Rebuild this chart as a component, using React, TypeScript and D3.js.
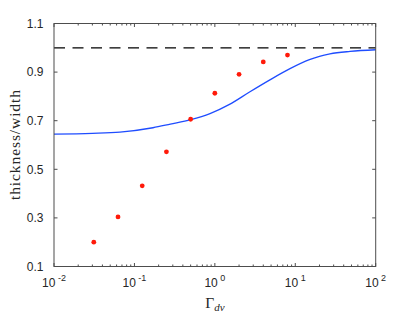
import React, { useRef, useEffect } from "react";
import * as d3 from "d3";

// measured points (Gamma_dv, thickness/width)
const dotX = [0.03125, 0.0625, 0.125, 0.25, 0.5, 1, 2, 4, 8];
const dotY = [0.2, 0.304, 0.432, 0.572, 0.706, 0.813, 0.891, 0.942, 0.97];

// model curve
const curveX = [0.01, 0.03, 0.066, 0.17, 0.28, 0.5, 0.87, 1.5, 2.7, 4.9, 8.6, 15, 20, 27, 48, 100];
const curveY = [0.645, 0.648, 0.653, 0.671, 0.686, 0.704, 0.729, 0.766, 0.818, 0.869, 0.914, 0.951, 0.965, 0.975, 0.985, 0.992];

const limitY = 1;

const yTicks = [0.1, 0.3, 0.5, 0.7, 0.9, 1.1];
const xDecades = [0.01, 0.1, 1, 10, 100];
const xExponents = ["-2", "-1", "0", "1", "2"];

const W = 415;
const H = 312;
const m = { left: 54, right: 39.3, top: 23.5, bottom: 45.5 };

const App = () => {
  const svgRef = useRef(null);

  useEffect(() => {
    const svg = d3.select(svgRef.current);
    svg.selectAll("*").remove();

    const x = d3.scaleLog().domain([0.01, 100]).range([m.left, W - m.right]);
    const y = d3.scaleLinear().domain([0.1, 1.1]).range([H - m.bottom, m.top]);
    const [x0, x1] = x.range();
    const [y0, y1] = y.range();

    const axisColor = "#4d4d4d";
    const textColor = "#262626";

    // dashed limit
    svg
      .append("line")
      .attr("x1", x0)
      .attr("x2", x1)
      .attr("y1", y(limitY))
      .attr("y2", y(limitY))
      .attr("stroke", "#000")
      .attr("stroke-width", 1.2)
      .attr("stroke-dasharray", "11,7.5");

    // blue curve
    const line = d3
      .line()
      .x((d) => x(d[0]))
      .y((d) => y(d[1]))
      .curve(d3.curveMonotoneX);
    svg
      .append("path")
      .datum(curveX.map((v, i) => [v, curveY[i]]))
      .attr("fill", "none")
      .attr("stroke", "#1f4dff")
      .attr("stroke-width", 1.3)
      .attr("d", line);

    // red dots
    svg
      .append("g")
      .selectAll("circle")
      .data(dotX.map((v, i) => [v, dotY[i]]))
      .enter()
      .append("circle")
      .attr("cx", (d) => x(d[0]))
      .attr("cy", (d) => y(d[1]))
      .attr("r", 2.4)
      .attr("fill", "#ff1a0a");

    // box
    svg
      .append("rect")
      .attr("x", x0)
      .attr("y", y1)
      .attr("width", x1 - x0)
      .attr("height", y0 - y1)
      .attr("fill", "none")
      .attr("stroke", axisColor)
      .attr("stroke-width", 1);

    // x ticks (top + bottom, inward)
    const minor = [];
    xDecades.slice(0, -1).forEach((d) => {
      for (let k = 2; k <= 9; k++) minor.push(d * k);
    });
    const ticks = svg.append("g").attr("stroke", axisColor).attr("stroke-width", 1);
    xDecades.forEach((v) => {
      ticks.append("line").attr("x1", x(v)).attr("x2", x(v)).attr("y1", y0).attr("y2", y0 - 3.5);
      ticks.append("line").attr("x1", x(v)).attr("x2", x(v)).attr("y1", y1).attr("y2", y1 + 3.5);
    });
    minor.forEach((v) => {
      ticks.append("line").attr("x1", x(v)).attr("x2", x(v)).attr("y1", y0).attr("y2", y0 - 2);
      ticks.append("line").attr("x1", x(v)).attr("x2", x(v)).attr("y1", y1).attr("y2", y1 + 2);
    });
    yTicks.forEach((v) => {
      ticks.append("line").attr("x1", x0).attr("x2", x0 + 3.5).attr("y1", y(v)).attr("y2", y(v));
      ticks.append("line").attr("x1", x1).attr("x2", x1 - 3.5).attr("y1", y(v)).attr("y2", y(v));
    });

    // y tick labels
    svg
      .append("g")
      .selectAll("text")
      .data(yTicks)
      .enter()
      .append("text")
      .attr("x", x0 - 10.5)
      .attr("y", (d) => y(d))
      .attr("dy", "0.36em")
      .attr("text-anchor", "end")
      .attr("font-family", "'Liberation Sans', Arial, sans-serif")
      .attr("font-size", 12)
      .attr("fill", textColor)
      .text((d) => d3.format(".1f")(d));

    // x tick labels 10^k
    xDecades.forEach((v, i) => {
      const t = svg
        .append("text")
        .attr("x", x(v))
        .attr("y", 287)
        .attr("text-anchor", "middle")
        .attr("font-family", "'Liberation Sans', Arial, sans-serif")
        .attr("font-size", 12)
        .attr("fill", textColor);
      t.append("tspan").text("10");
      t.append("tspan").attr("dx", 2.5).attr("dy", -6).attr("font-size", 9).text(xExponents[i]);
    });

    // axis titles
    const xl = svg
      .append("text")
      .attr("x", (x0 + x1) / 2)
      .attr("y", 308)
      .attr("text-anchor", "middle")
      .attr("font-family", "'Liberation Serif', 'Times New Roman', serif")
      .attr("font-size", 15.5)
      .attr("fill", textColor);
    xl.append("tspan").text("Γ");
    xl.append("tspan").attr("dy", 2.5).attr("font-size", 11).attr("font-style", "italic").text("dv");

    svg
      .append("text")
      .attr("transform", `translate(20,${(y0 + y1) / 2}) rotate(-90)`)
      .attr("text-anchor", "middle")
      .attr("font-family", "'Liberation Serif', 'Times New Roman', serif")
      .attr("font-size", 15.5)
      .attr("textLength", 110)
      .attr("lengthAdjust", "spacing")
      .attr("fill", textColor)
      .text("thickness/width");
  }, []);

  return (
    <svg
      ref={svgRef}
      width={W}
      height={H}
      style={{ position: "absolute", left: 0, top: 0, background: "#fff" }}
    />
  );
};

export default App;
